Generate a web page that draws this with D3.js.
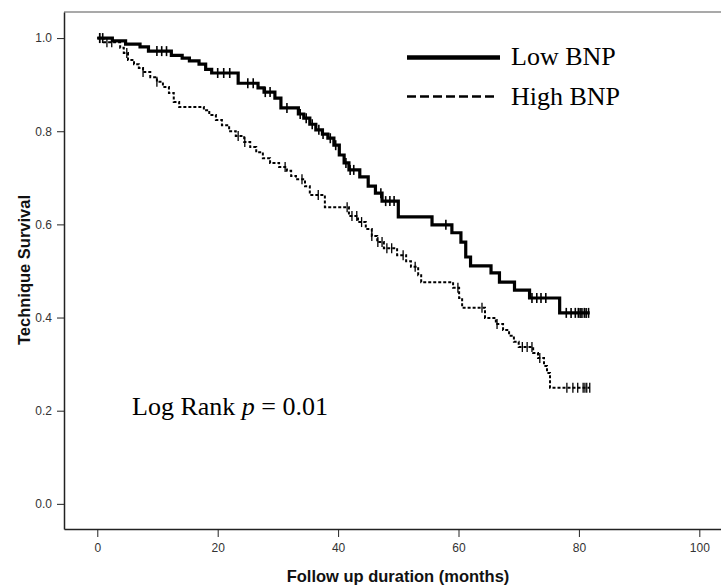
<!DOCTYPE html>
<html>
<head>
<meta charset="utf-8">
<script src="https://cdn.jsdelivr.net/npm/d3@7"></script>
<style>
  body { margin: 0; background: #fff; }
  .axis text { font-family: "Liberation Sans", Arial, sans-serif; font-size: 12px; fill: #333; }
  .axis line, .axis path { stroke: #222; }
</style>
</head>
<body>
<svg width="721" height="588"></svg>
<script>
// Kaplan-Meier steps (time in months, survival)
var lowTimes = [0, 2.5, 4.7, 7.1, 8.5, 12.3, 14.1, 15.3, 16.9, 18.0, 19.0, 23.4, 26.7, 27.7, 29.5, 30.5, 33.4, 34.3, 35.3, 36.3, 37.4, 38.3, 39.3, 40.2, 41.0, 41.8, 43.6, 45.0, 46.2, 47.3, 50.0, 55.6, 58.9, 60.4, 61.2, 62.0, 65.4, 66.8, 69.3, 71.8, 76.8];
var lowSurv = [1.0, 0.994, 0.987, 0.981, 0.972, 0.963, 0.957, 0.951, 0.944, 0.933, 0.925, 0.903, 0.893, 0.884, 0.871, 0.850, 0.837, 0.828, 0.815, 0.803, 0.794, 0.785, 0.770, 0.749, 0.732, 0.717, 0.702, 0.682, 0.667, 0.650, 0.616, 0.599, 0.582, 0.562, 0.530, 0.511, 0.496, 0.476, 0.459, 0.442, 0.410];
var lowCensor = [0.4, 0.9, 9.9, 10.7, 11.5, 20.0, 21.0, 22.0, 25.0, 25.9, 27.9, 28.7, 31.5, 33.7, 34.7, 35.7, 36.8, 37.5, 38.7, 39.6, 41.3, 42.0, 42.6, 47.1, 47.9, 48.6, 49.3, 57.9, 72.2, 73.0, 73.7, 74.5, 77.9, 78.7, 79.4, 79.9, 80.2, 80.5, 80.9, 81.2, 81.6];
var lowEnd = 81.8;

var highTimes = [0, 1.1, 3.8, 4.4, 5.1, 6.1, 6.9, 7.6, 8.8, 9.9, 10.9, 11.9, 12.7, 13.6, 17.7, 18.6, 19.7, 20.7, 21.9, 23.0, 24.4, 25.4, 26.4, 27.5, 28.7, 30.2, 31.5, 32.2, 33.0, 34.5, 35.3, 37.8, 41.8, 43.3, 44.6, 45.6, 46.5, 47.6, 49.8, 51.3, 52.1, 53.3, 53.8, 59.1, 60.1, 60.6, 64.4, 66.2, 67.4, 68.4, 69.2, 70.0, 72.4, 73.2, 74.2, 74.7, 75.2];
var highSurv = [1.0, 0.991, 0.979, 0.968, 0.953, 0.944, 0.936, 0.927, 0.916, 0.906, 0.895, 0.882, 0.863, 0.852, 0.845, 0.835, 0.824, 0.813, 0.800, 0.790, 0.777, 0.766, 0.755, 0.742, 0.732, 0.723, 0.715, 0.704, 0.697, 0.682, 0.663, 0.637, 0.618, 0.605, 0.590, 0.575, 0.562, 0.549, 0.534, 0.521, 0.509, 0.491, 0.476, 0.464, 0.442, 0.421, 0.399, 0.386, 0.373, 0.361, 0.348, 0.337, 0.324, 0.313, 0.296, 0.281, 0.249];
var highCensor = [0.4, 1.6, 2.4, 4.9, 7.6, 9.9, 23.4, 24.5, 31.2, 34.0, 36.7, 41.5, 42.3, 43.1, 43.9, 45.6, 46.6, 47.3, 48.1, 48.9, 50.8, 52.8, 59.9, 63.9, 66.4, 70.6, 71.4, 72.2, 73.5, 78.0, 79.0, 79.8, 80.7, 81.0, 81.3, 81.8];
var highEnd = 81.8;

var xTicks = [0, 20, 40, 60, 80, 100];
var yTicks = [0.0, 0.2, 0.4, 0.6, 0.8, 1.0];
var seriesNames = ["Low BNP", "High BNP"];

(function() {
  var svg = d3.select("svg");
  var left = 64, right = 721, top = 12, bottom = 529;

  var x = d3.scaleLinear().domain([-5.53, 103.6]).range([left, right]);
  var y = d3.scaleLinear().domain([-0.054, 1.056]).range([bottom, top]);

  // frame top (grey)
  svg.append("line")
      .attr("x1", left).attr("x2", right)
      .attr("y1", top).attr("y2", top)
      .attr("stroke", "#8c8c8c").attr("stroke-width", 1.5);

  svg.append("g")
      .attr("class", "axis")
      .attr("transform", "translate(" + left + ",0)")
      .call(d3.axisLeft(y).tickValues(yTicks).tickFormat(d3.format(".1f"))
        .tickSize(7).tickSizeOuter(0).tickPadding(5))
      .call(function(g) { g.select(".domain").attr("stroke-width", 1.5); });

  svg.append("g")
      .attr("class", "axis")
      .attr("transform", "translate(0," + bottom + ")")
      .call(d3.axisBottom(x).tickValues(xTicks).tickFormat(d3.format("d"))
        .tickSize(8).tickSizeOuter(0).tickPadding(6))
      .call(function(g) { g.select(".domain").attr("stroke-width", 1.5); });

  // axis titles
  svg.append("text")
      .attr("x", 398).attr("y", 582)
      .attr("text-anchor", "middle")
      .attr("font-family", "Liberation Sans, Arial, sans-serif")
      .attr("font-weight", "bold").attr("font-size", 16.5)
      .attr("fill", "#111")
      .text("Follow up duration (months)");

  svg.append("text")
      .attr("transform", "translate(30,270) rotate(-90)")
      .attr("text-anchor", "middle")
      .attr("font-family", "Liberation Sans, Arial, sans-serif")
      .attr("font-weight", "bold").attr("font-size", 16.5)
      .attr("fill", "#111")
      .text("Technique Survival");

  function steps(times, surv, end) {
    var pts = times.map(function(t, i) { return [t, surv[i]]; });
    pts.push([end, surv[surv.length - 1]]);
    return pts;
  }
  function survAt(times, surv, t) {
    var i = d3.bisectRight(times, t) - 1;
    return surv[Math.max(0, i)];
  }

  var line = d3.line()
      .x(function(d) { return x(d[0]); })
      .y(function(d) { return y(d[1]); })
      .curve(d3.curveStepAfter);

  var groups = [
    {times: highTimes, surv: highSurv, censor: highCensor, end: highEnd, width: 2, dash: "3,2", tick: 1.3},
    {times: lowTimes, surv: lowSurv, censor: lowCensor, end: lowEnd, width: 3.2, dash: null, tick: 1.6}
  ];

  groups.forEach(function(gr) {
    svg.append("path")
        .datum(steps(gr.times, gr.surv, gr.end))
        .attr("d", line)
        .attr("fill", "none")
        .attr("stroke", "#000")
        .attr("stroke-width", gr.width)
        .attr("stroke-dasharray", gr.dash);

    svg.append("g").selectAll("line")
        .data(gr.censor)
        .enter().append("line")
          .attr("x1", function(d) { return x(d); })
          .attr("x2", function(d) { return x(d); })
          .attr("y1", function(d) { return y(survAt(gr.times, gr.surv, d)) - 5; })
          .attr("y2", function(d) { return y(survAt(gr.times, gr.surv, d)) + 5; })
          .attr("stroke", "#000")
          .attr("stroke-width", gr.tick);
  });

  // legend
  var legend = svg.append("g");
  var legendRows = [
    {name: seriesNames[0], ly: 57.5, ty: 65, width: 4.5, dash: null, x2: 500},
    {name: seriesNames[1], ly: 96.5, ty: 105, width: 2.5, dash: "9,4", x2: 497}
  ];
  legendRows.forEach(function(r) {
    legend.append("line")
        .attr("x1", 407).attr("x2", r.x2)
        .attr("y1", r.ly).attr("y2", r.ly)
        .attr("stroke", "#000")
        .attr("stroke-width", r.width)
        .attr("stroke-dasharray", r.dash);
    legend.append("text")
        .attr("x", 511).attr("y", r.ty)
        .attr("font-family", "Liberation Serif, Times New Roman, serif")
        .attr("font-size", 26)
        .attr("fill", "#000")
        .text(r.name);
  });

  var lr = svg.append("text")
      .attr("x", 132).attr("y", 415)
      .attr("font-family", "Liberation Serif, Times New Roman, serif")
      .attr("font-size", 26)
      .attr("fill", "#000");
  lr.append("tspan").text("Log Rank ");
  lr.append("tspan").attr("font-style", "italic").text("p");
  lr.append("tspan").text(" = 0.01");
})();
</script>
</body>
</html>
